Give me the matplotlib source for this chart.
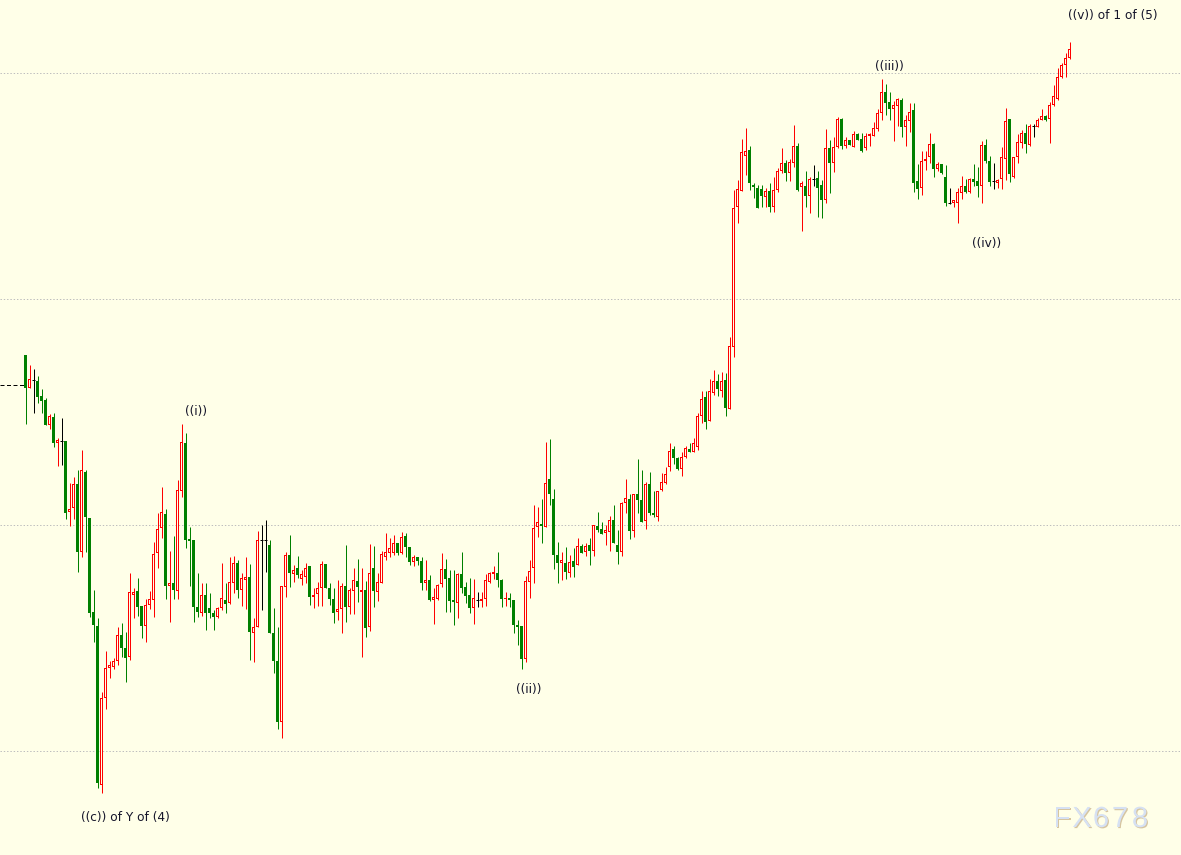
import numpy as np
import matplotlib.pyplot as plt
import matplotlib.patheffects as pe

# Candle data (arbitrary price points, one bar per period)
opens = [
    645, 612, 620, 619, 604, 600, 575, 583, 557, 559,
    559, 488, 492, 516, 448, 528, 482, 388, 374, 215,
    302, 332, 333, 339, 365, 352, 343, 405, 409, 394,
    374, 395, 400, 447, 472, 486, 414, 417, 409, 509,
    557, 461, 460, 393, 387, 405, 392, 387, 383, 392,
    400, 397, 417, 437, 410, 420, 423, 367, 373, 460,
    460, 455, 367, 339, 278, 413, 445, 426, 432, 421,
    423, 434, 403, 406, 412, 436, 412, 401, 388, 391,
    414, 393, 409, 419, 408, 410, 373, 432, 408, 417,
    443, 447, 447, 457, 447, 464, 453, 438, 443, 439,
    417, 420, 400, 401, 416, 431, 422, 400, 397, 426,
    413, 405, 392, 400, 399, 401, 418, 426, 427, 420,
    401, 402, 400, 375, 374, 341, 418, 432, 473, 476,
    473, 521, 501, 445, 437, 437, 427, 439, 435, 454,
    448, 455, 449, 474, 471, 467, 468, 480, 455, 448,
    497, 501, 469, 506, 500, 479, 516, 487, 483, 510,
    517, 533, 551, 542, 531, 543, 551, 548, 553, 584,
    603, 579, 607, 619, 609, 620, 591, 653, 793, 809,
    844, 850, 815, 812, 811, 803, 809, 793, 810, 829,
    837, 827, 837, 854, 813, 814, 804, 821, 822, 815,
    800, 852, 837, 853, 881, 854, 860, 853, 866, 861,
    852, 864, 864, 871, 887, 908, 898, 891, 894, 900,
    873, 879, 890, 819, 812, 839, 843, 856, 831, 836,
    823, 797, 797, 797, 807, 814, 808, 821, 819, 814,
    855, 839, 819, 817, 821, 841, 881, 823, 843, 857,
    867, 855, 874, 873, 880, 884, 881, 895, 901, 923,
    935, 942,
]
highs = [
    645, 635, 631, 624, 611, 602, 586, 587, 562, 582,
    559, 517, 523, 530, 550, 530, 482, 410, 382, 308,
    349, 339, 342, 373, 377, 368, 427, 412, 422, 394,
    401, 409, 458, 487, 513, 491, 449, 464, 520, 576,
    567, 473, 460, 427, 417, 417, 407, 390, 393, 437,
    417, 443, 444, 440, 427, 443, 436, 382, 469, 475,
    480, 460, 392, 373, 414, 448, 465, 435, 444, 430,
    437, 434, 412, 418, 439, 436, 417, 412, 420, 417,
    455, 412, 432, 441, 432, 419, 456, 454, 427, 449,
    467, 462, 465, 457, 468, 467, 453, 445, 443, 443,
    440, 425, 412, 416, 447, 441, 430, 430, 427, 448,
    418, 422, 421, 408, 408, 426, 428, 434, 448, 421,
    408, 407, 400, 380, 374, 424, 440, 495, 493, 501,
    558, 561, 511, 458, 448, 453, 445, 452, 462, 456,
    457, 462, 475, 488, 478, 475, 484, 495, 470, 498,
    521, 506, 506, 541, 530, 518, 528, 509, 509, 527,
    533, 557, 554, 543, 548, 554, 557, 562, 587, 609,
    609, 621, 630, 626, 628, 627, 663, 810, 820, 861,
    872, 854, 817, 815, 815, 812, 817, 823, 832, 852,
    840, 841, 875, 857, 819, 829, 823, 835, 829, 820,
    871, 860, 863, 883, 882, 863, 860, 869, 867, 867,
    867, 867, 878, 891, 921, 916, 908, 899, 902, 902,
    885, 897, 897, 836, 849, 849, 867, 857, 838, 836,
    835, 812, 800, 812, 824, 821, 822, 836, 833, 859,
    861, 844, 837, 821, 853, 892, 881, 843, 866, 870,
    876, 876, 876, 882, 891, 885, 898, 915, 932, 937,
    947, 958,
]
lows = [
    576, 612, 587, 597, 587, 575, 571, 553, 534, 535,
    481, 474, 481, 428, 443, 448, 383, 358, 212, 207,
    291, 322, 331, 335, 343, 318, 340, 382, 384, 362,
    358, 391, 383, 432, 462, 401, 378, 401, 401, 503,
    452, 414, 378, 383, 384, 370, 382, 370, 382, 390,
    387, 396, 407, 402, 394, 391, 340, 338, 373, 390,
    428, 367, 327, 271, 262, 403, 413, 418, 422, 415,
    417, 395, 392, 394, 394, 412, 395, 377, 380, 367,
    378, 386, 386, 398, 343, 363, 369, 393, 399, 417,
    440, 443, 445, 445, 446, 443, 435, 434, 435, 410,
    410, 399, 376, 400, 413, 388, 388, 375, 382, 407,
    397, 387, 376, 393, 393, 394, 417, 421, 413, 393,
    394, 393, 367, 355, 331, 338, 402, 417, 463, 457,
    473, 495, 431, 417, 420, 421, 423, 423, 435, 447,
    444, 435, 444, 468, 466, 455, 449, 457, 436, 444,
    487, 461, 463, 487, 478, 471, 485, 483, 479, 509,
    516, 529, 536, 530, 524, 542, 548, 548, 550, 577,
    571, 579, 605, 604, 603, 584, 591, 643, 777, 809,
    825, 810, 802, 792, 793, 793, 788, 788, 808, 827,
    819, 819, 833, 809, 769, 793, 787, 814, 783, 782,
    797, 807, 828, 852, 851, 852, 855, 853, 860, 848,
    850, 854, 864, 869, 880, 885, 880, 859, 874, 863,
    854, 868, 808, 801, 805, 830, 837, 823, 829, 826,
    794, 796, 793, 777, 801, 807, 807, 814, 803, 797,
    837, 814, 811, 812, 811, 820, 818, 822, 837, 852,
    847, 854, 863, 873, 880, 879, 857, 894, 900, 922,
    923, 941,
]
closes = [
    612, 621, 620, 603, 599, 575, 584, 557, 560, 559,
    487, 491, 516, 448, 530, 483, 387, 375, 217, 302,
    332, 335, 339, 365, 352, 342, 408, 408, 393, 374,
    395, 401, 446, 471, 488, 414, 417, 410, 510, 558,
    460, 459, 393, 388, 405, 387, 387, 383, 392, 402,
    396, 418, 437, 410, 422, 423, 368, 373, 460, 460,
    460, 367, 339, 278, 414, 445, 427, 430, 425, 426,
    432, 403, 405, 412, 436, 412, 401, 387, 391, 414,
    393, 410, 420, 413, 410, 372, 427, 409, 418, 446,
    448, 452, 457, 447, 463, 453, 438, 443, 439, 417,
    420, 400, 403, 415, 431, 421, 399, 398, 426, 412,
    404, 392, 402, 400, 401, 420, 427, 428, 420, 401,
    402, 400, 375, 373, 341, 419, 429, 472, 478, 474,
    517, 506, 445, 437, 440, 428, 438, 433, 454, 447,
    454, 449, 475, 470, 466, 470, 480, 457, 448, 497,
    502, 469, 506, 500, 478, 516, 487, 485, 509, 518,
    526, 549, 542, 531, 543, 552, 548, 557, 584, 601,
    578, 609, 619, 611, 619, 592, 654, 792, 811, 848,
    849, 817, 813, 792, 804, 809, 793, 810, 829, 837,
    827, 838, 854, 810, 817, 804, 821, 821, 812, 800,
    852, 837, 853, 881, 854, 860, 855, 866, 860, 849,
    864, 866, 872, 887, 908, 897, 891, 895, 901, 873,
    880, 888, 817, 811, 839, 841, 856, 831, 836, 827,
    797, 797, 800, 808, 814, 808, 821, 818, 814, 855,
    839, 818, 819, 820, 843, 879, 826, 843, 858, 867,
    856, 874, 874, 880, 884, 880, 895, 904, 923, 935,
    942, 951,
]

# horizontal grid levels and the dashed price line at the left edge
grid_levels = [927, 701, 475, 249]
price_line = 615

# wave labels: text, bar index, price
wave_labels = ["((c)) of Y of (4)", "((i))", "((ii))", "((iii))", "((iv))", "((v)) of 1 of (5)"]
wave_idx = [25.1, 42.6, 125.9, 216.1, 240.4, 271.9]
wave_price = [183, 588, 311, 933, 757, 984]

BG = "#FFFFE8"
RED = "#FF0000"
GREEN = "#008000"
LW = 0.72  # one pixel at 100 dpi

o = np.array(opens, dtype=float)
h = np.array(highs, dtype=float)
l = np.array(lows, dtype=float)
c = np.array(closes, dtype=float)
idx = np.arange(len(o))

up = c > o
down = c < o
flat = c == o

fig = plt.figure(figsize=(11.81, 8.55), dpi=100, facecolor=BG)
ax = fig.add_axes([0, 0, 1, 1])
ax.set_facecolor(BG)
ax.set_xlim(-6.375, 288.875)
ax.set_ylim(145, 1000)
ax.axis("off")

# grid
for lv in grid_levels:
    ax.axhline(lv, color="#BEBEBE", linewidth=LW, linestyle=(0, (1.4, 1.9)), zorder=1)

ax.hlines(price_line, -6.375, -0.45, color="black", linewidth=LW,
          linestyles=(0, (4, 2.5)), zorder=2)

# wicks
ax.vlines(idx[up], l[up], h[up], color=RED, linewidth=LW, zorder=3)
ax.vlines(idx[down], l[down], h[down], color=GREEN, linewidth=LW, zorder=3)
ax.vlines(idx[flat], l[flat], h[flat], color="black", linewidth=LW, zorder=3)

# up bars: red box with a hollow centre (1 px border)
ax.bar(idx[up], (c - o)[up], bottom=o[up], width=0.75, color=RED,
       linewidth=0, snap=False, zorder=4)
inner = up & (c - o > 2)
ax.bar(idx[inner], (c - o - 2)[inner], bottom=o[inner] + 1, width=0.25, color=BG,
       linewidth=0, snap=False, zorder=5)
# down bars: solid green
ax.bar(idx[down], (o - c)[down], bottom=c[down], width=0.75, color=GREEN,
       linewidth=0, snap=False, zorder=4)
ax.hlines(o[flat], idx[flat] - 0.375, idx[flat] + 0.375, color="black", linewidth=LW, zorder=4)

for txt, xi, yp in zip(wave_labels, wave_idx, wave_price):
    ax.text(xi, yp, txt, ha="center", va="center", fontsize=8.7,
            color="#15152a", family="DejaVu Sans", zorder=6)

# watermark, letter-spaced
wm_x = [1062, 1082, 1101, 1120, 1140]
for ch, px in zip("FX678", wm_x):
    fig.text(px / 1181, 36 / 855, ch, ha="center", va="center", fontsize=21,
             color="#D6E1F3", family="Liberation Sans",
             path_effects=[pe.SimplePatchShadow(offset=(0.8, -0.8), shadow_rgbFace="#D2BF98", alpha=0.9),
                           pe.Normal()])

fig.savefig("out.png", dpi=100, facecolor=BG)
